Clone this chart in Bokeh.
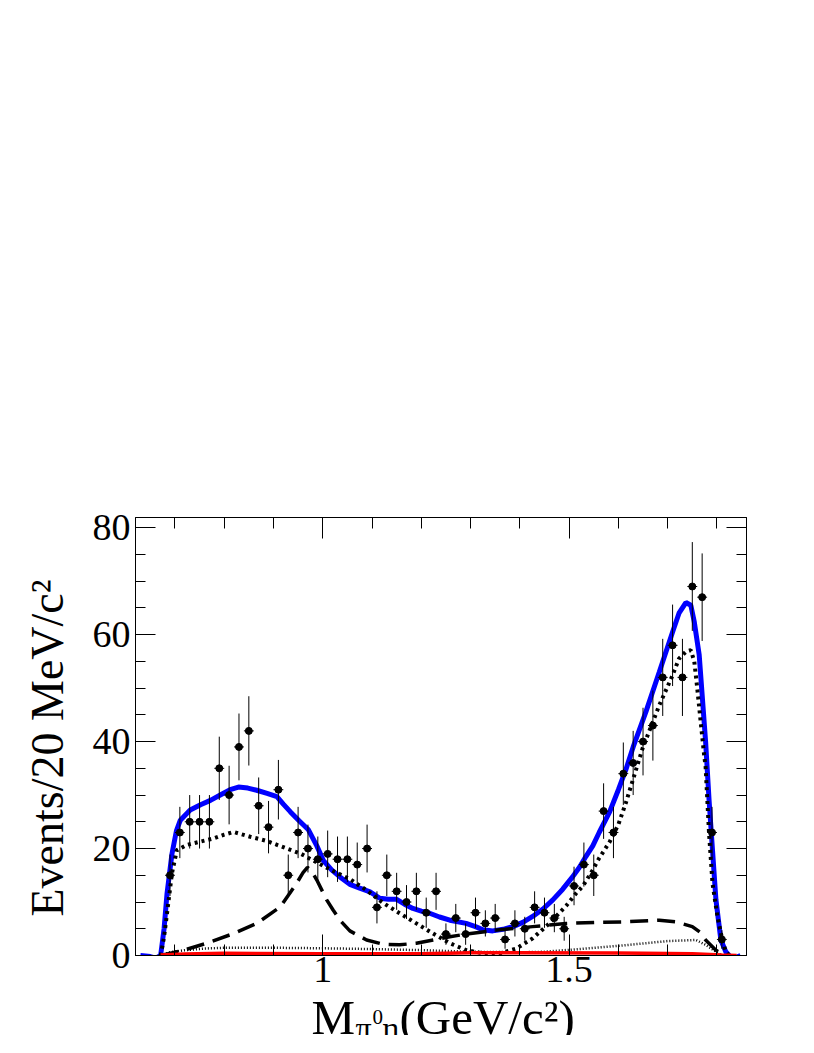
import numpy as np
from bokeh.plotting import figure
from bokeh.layouts import column
from bokeh.models import (Range1d, FixedTicker, LinearAxis, NumeralTickFormatter,
                          CustomJSTickFormatter, ColumnDataSource)
from bokeh.core.properties import value
from bokeh.embed import file_html
from bokeh.resources import INLINE

# ---- data ----
bin_centers = [0.69, 0.71, 0.73, 0.75, 0.77, 0.79, 0.81, 0.83, 0.85, 0.87, 0.89, 0.91, 0.93, 0.95, 0.97,
               0.99, 1.01, 1.03, 1.05, 1.07, 1.09, 1.11, 1.13, 1.15, 1.17, 1.19, 1.21, 1.23, 1.25, 1.27,
               1.29, 1.31, 1.33, 1.35, 1.37, 1.39, 1.41, 1.43, 1.45, 1.47, 1.49, 1.51, 1.53, 1.55, 1.57,
               1.59, 1.61, 1.63, 1.65, 1.67, 1.69, 1.71, 1.73, 1.75, 1.77, 1.79, 1.81]
counts = [15, 23, 25, 25, 25, 35, 30, 39, 42, 28, 24, 31, 15, 23, 20,
          18, 19, 18, 18, 17, 20, 9, 15, 12, 10, 12, 8, 12, 4, 7,
          4, 8, 6, 7, 3, 6, 5, 9, 8, 7, 5, 13, 17, 15, 27,
          23, 34, 36, 40, 43, 52, 58, 52, 69, 67, 23, 3]
bin_half_width = 0.01

total_x = [0.630, 0.650, 0.661, 0.671, 0.678, 0.684, 0.694, 0.703, 0.711, 0.731, 0.752, 0.772, 0.792, 0.812,
           0.829, 0.848, 0.866, 0.887, 0.907, 0.920, 0.934, 0.952, 0.971, 0.988, 1.001, 1.018, 1.035, 1.055,
           1.075, 1.096, 1.116, 1.133, 1.150, 1.166, 1.183, 1.200, 1.217, 1.237, 1.258, 1.291, 1.310, 1.325,
           1.345, 1.366, 1.386, 1.406, 1.426, 1.447, 1.467, 1.487, 1.507, 1.521, 1.534, 1.548, 1.561, 1.582,
           1.600, 1.615, 1.630, 1.656, 1.683, 1.710, 1.723, 1.737, 1.747, 1.754, 1.764, 1.777, 1.784, 1.791,
           1.798, 1.808, 1.818, 1.828, 1.838, 1.848]
total_y = [0.0, -0.2, -0.5, 0.0, 5.0, 11.6, 19.0, 23.3, 25.3, 27.2, 28.2, 29.0, 30.0, 31.0,
           31.5, 31.3, 30.9, 30.3, 29.7, 28.3, 26.9, 25.2, 23.5, 20.5, 17.8, 16.0, 14.7, 13.3,
           12.6, 11.9, 10.7, 10.5, 10.5, 9.6, 8.8, 8.3, 7.9, 7.2, 6.6, 6.0, 5.4, 4.8,
           4.6, 4.9, 5.4, 6.2, 7.3, 8.7, 10.4, 12.4, 14.7, 16.5, 18.5, 20.5, 23.0, 26.8,
           31.0, 34.7, 39.0, 45.6, 53.0, 60.5, 64.0, 66.0, 65.5, 62.4, 56.2, 40.0, 29.1, 19.7,
           10.4, 2.9, 0.7, -0.3, -0.4, 0.0]

main_x = [0.671, 0.678, 0.684, 0.694, 0.704, 0.725, 0.752, 0.779, 0.800, 0.819, 0.853, 0.887, 0.927, 0.954,
          0.988, 1.021, 1.055, 1.089, 1.123, 1.156, 1.190, 1.224, 1.258, 1.291, 1.325, 1.359, 1.393, 1.426,
          1.460, 1.494, 1.514, 1.528, 1.548, 1.561, 1.582, 1.600, 1.615, 1.630, 1.649, 1.683, 1.710, 1.723,
          1.737, 1.747, 1.754, 1.760, 1.767, 1.774, 1.777, 1.784, 1.791, 1.801, 1.811, 1.818, 1.825]
main_y = [0.0, 3.5, 7.9, 15.4, 19.7, 20.7, 21.3, 21.9, 22.6, 23.1, 22.2, 21.4, 20.0, 19.1,
          17.4, 15.8, 14.3, 12.2, 9.8, 7.9, 6.0, 4.1, 2.3, 1.0, 0.4, 0.4, 1.3, 3.2,
          6.0, 9.3, 11.6, 13.0, 16.0, 18.2, 21.2, 24.5, 28.5, 33.0, 38.7, 46.8, 52.4, 55.5,
          56.8, 57.1, 55.0, 50.0, 43.7, 37.5, 35.3, 22.8, 13.5, 7.3, 2.9, 0.7, 0.0]

a0_x = [0.671, 0.718, 0.765, 0.819, 0.866, 0.914, 0.947, 0.960, 0.969, 0.981, 0.988, 1.008, 1.021, 1.035,
        1.055, 1.089, 1.123, 1.156, 1.190, 1.224, 1.258, 1.291, 1.359, 1.426, 1.494, 1.561, 1.615, 1.683,
        1.717, 1.750, 1.765, 1.777, 1.798, 1.811, 1.820]
a0_y = [0.0, 1.0, 2.3, 4.1, 6.0, 9.1, 13.5, 15.5, 16.5, 15.2, 14.1, 10.4, 8.5, 6.6,
        4.6, 2.9, 2.1, 2.0, 2.3, 2.9, 3.5, 4.0, 4.8, 5.4, 6.0, 6.2, 6.3, 6.6,
        6.3, 5.4, 4.4, 2.9, 1.0, 0.3, 0.0]

minor_x = [0.671, 0.690, 0.720, 0.760, 0.800, 0.900, 1.000, 1.100, 1.200, 1.300, 1.400, 1.450, 1.520,
           1.600, 1.700, 1.757, 1.777, 1.798, 1.810]
minor_y = [0.0, 0.6, 1.0, 1.3, 1.45, 1.45, 1.35, 1.2, 1.0, 0.7, 0.6, 0.7, 1.2,
           1.8, 2.7, 2.9, 2.0, 0.7, 0.0]

bkg_x = [0.671, 0.720, 0.800, 1.000, 1.200, 1.300, 1.400, 1.600, 1.750, 1.810, 1.840]
bkg_y = [0.1, 0.3, 0.4, 0.35, 0.35, 0.5, 0.5, 0.45, 0.35, 0.1, 0.0]

x_major_ticks = [0.5, 1.0, 1.5, 2.0]
y_major_ticks = [0, 20, 40, 60, 80]
y_title = "Events/20 MeV/c²\u00a0\u00a0"
x_title_parts = ["M", "π", "0", "η", "(GeV/c²)"]

# ---- main figure ----
FONT = "Liberation Serif"
p = figure(frame_width=611, frame_height=438,
           x_range=Range1d(0.62, 1.86), y_range=Range1d(0, 81.9),
           output_backend="svg", toolbar_location=None,
           min_border_left=135, min_border_right=62, min_border_top=517, min_border_bottom=0,
           x_axis_location=None, y_axis_location=None)
p.xgrid.visible = False
p.ygrid.visible = False
p.outline_line_color = "black"
p.outline_line_width = 1
p.background_fill_color = "white"
p.border_fill_color = "white"

x_minor = [round(v, 2) for v in np.arange(0.5, 2.0001, 0.1)]
y_minor = list(range(0, 86, 5))


def make_axis(kind, ticks, minor, labels):
    ax = LinearAxis(ticker=FixedTicker(ticks=ticks, minor_ticks=minor))
    ax.axis_line_color = "black"
    ax.major_tick_line_color = "black"
    ax.minor_tick_line_color = "black"
    ax.major_tick_out = 0
    ax.minor_tick_out = 0
    if kind == "x":
        ax.major_tick_in = 21
        ax.minor_tick_in = 11
    else:
        ax.major_tick_in = 20
        ax.minor_tick_in = 10
    if labels:
        ax.major_label_text_font = FONT
        ax.major_label_text_font_size = "38px"
        ax.major_label_text_color = "black"
    else:
        ax.formatter = CustomJSTickFormatter(code="return ''")
        ax.major_label_standoff = 0
    return ax


xb = make_axis("x", x_major_ticks, x_minor, True)
xb.formatter = NumeralTickFormatter(format="0.[0]")
xb.major_label_standoff = 1
p.add_layout(xb, "below")
p.add_layout(make_axis("x", x_major_ticks, x_minor, False), "above")
yl = make_axis("y", y_major_ticks, y_minor, True)
yl.major_label_standoff = 5
yl.axis_label = y_title
yl.axis_label_text_font = FONT
yl.axis_label_text_font_size = "46px"
yl.axis_label_text_font_style = "normal"
yl.axis_label_text_color = "black"
yl.axis_label_standoff = 17
p.add_layout(yl, "left")
p.add_layout(make_axis("y", y_major_ticks, y_minor, False), "right")

# ---- curves ----
p.line(total_x, total_y, line_color="#0000ff", line_width=5)
p.line(a0_x, a0_y, line_color="black", line_width=3.5, line_dash="18 9")
p.line(main_x, main_y, line_color="black", line_width=4, line_dash="3 4")
p.line(minor_x, minor_y, line_color="black", line_width=2.5, line_dash="1 2")
p.line(bkg_x, bkg_y, line_color="#ff0000", line_width=3.5)

# ---- data points ----
bc = np.array(bin_centers)
cnt = np.array(counts, dtype=float)
err = np.sqrt(cnt)
src = ColumnDataSource(dict(x=bc, y=cnt, lo=cnt - err, hi=cnt + err,
                            xl=bc - bin_half_width, xr=bc + bin_half_width))
p.segment(x0="x", y0="lo", x1="x", y1="hi", source=src, line_color="black", line_width=1)
p.segment(x0="xl", y0="y", x1="xr", y1="y", source=src, line_color="black", line_width=1)
p.scatter(x="x", y="y", source=src, marker="circle", size=7, fill_color="black", line_color="black")

# ---- x-axis title strip (its frame is aligned with the main frame: x in page pixels,
#      y measured downward from the top of the strip) ----
P_H = 1000         # height of the main figure canvas
T_H = 51
t = figure(width=808, height=T_H,
           x_range=Range1d(135, 746), y_range=Range1d(T_H, 0),
           output_backend="svg", toolbar_location=None,
           min_border=0, x_axis_location=None, y_axis_location=None)
t.xgrid.visible = False
t.ygrid.visible = False
t.outline_line_color = None
t.border_fill_color = "white"
t.background_fill_color = "white"

tx = [311, 355, 372, 382, 399]
ty = [1033, 1043, 1032, 1043, 1033]
tsz = ["49px", "32px", "21px", "32px", "49px"]
for s, xx, yy, fs in zip(x_title_parts, tx, ty, tsz):
    t.text(x=[xx], y=[yy - P_H], text=[s], text_font=value(FONT), text_font_size=value(fs),
           text_color="black", text_align="left", text_baseline="alphabetic")

layout = column(p, t, spacing=0)
open("out.html", "w").write(file_html(layout, INLINE))
